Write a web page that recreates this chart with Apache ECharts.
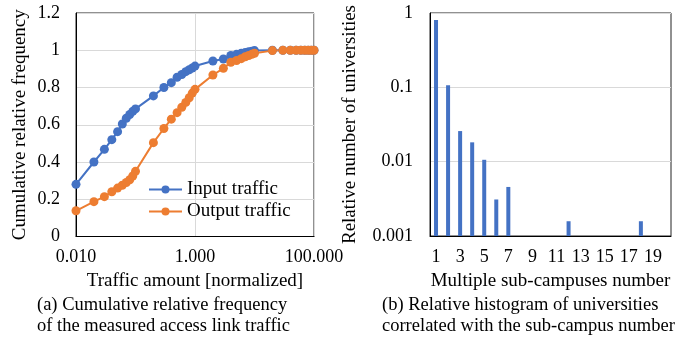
<!DOCTYPE html>
<html>
<head>
<meta charset="utf-8">
<script src="https://cdn.jsdelivr.net/npm/echarts@6/dist/echarts.min.js"></script>
<style>
  html, body { margin: 0; padding: 0; background: #fff; }
  #main { width: 694px; height: 348px; }
</style>
</head>
<body>
<div id="main"></div>
<script>
var trafficX = [0.01, 0.02, 0.03, 0.04, 0.05, 0.06, 0.07, 0.08, 0.09, 0.1,
  0.2, 0.3, 0.4, 0.5, 0.6, 0.7, 0.8, 0.9, 1,
  2, 3, 4, 5, 6, 7, 8, 9, 10,
  20, 30, 40, 50, 60, 70, 80, 90, 100];
var inputCdf = [0.28, 0.40, 0.468, 0.52, 0.563, 0.604, 0.635, 0.655, 0.672, 0.685,
  0.755, 0.80, 0.826, 0.855, 0.87, 0.885, 0.895, 0.905, 0.915,
  0.942, 0.953, 0.972, 0.978, 0.984, 0.988, 0.992, 0.995, 0.998,
  1, 1, 1, 1, 1, 1, 1, 1, 1];
var outputCdf = [0.138, 0.187, 0.214, 0.24, 0.26, 0.275, 0.29, 0.305, 0.325, 0.35,
  0.504, 0.58, 0.63, 0.665, 0.694, 0.72, 0.745, 0.77, 0.79,
  0.867, 0.903, 0.935, 0.945, 0.955, 0.965, 0.972, 0.978, 0.984,
  0.998, 1, 1, 1, 1, 1, 1, 1, 1];
var campusNum = ['1', '2', '3', '4', '5', '6', '7', '8', '9', '10',
  '11', '12', '13', '14', '15', '16', '17', '18', '19', '20'];
var campusRatio = [0.805, 0.107, 0.0258, 0.0182, 0.0106, 0.0031, 0.00457, null, null, null,
  null, 0.00158, null, null, null, null, null, 0.00158, null, null];

var font = 'Liberation Serif';
var blue = '#4472C4';
var orange = '#ED7D31';

function pairs(xs, ys) {
  var out = [];
  for (var i = 0; i < xs.length; i++) out.push([xs[i], ys[i]]);
  return out;
}

var txt = { color: '#000', fontFamily: font, fontSize: 19 };
var tick = { color: '#000', fontFamily: font, fontSize: 18 };
var capFont = '18.5px "Liberation Serif"';

var myChart = echarts.init(document.getElementById('main'));
var option = {
  animation: false,
  textStyle: { fontFamily: font },
  grid: [
    { left: 76, top: 13, width: 238, height: 223.5, show: true, borderColor: '#222', borderWidth: 1 },
    { left: 430, top: 13, width: 241, height: 223, show: true, borderColor: '#222', borderWidth: 1 }
  ],
  legend: {
    left: 143, top: 175, orient: 'vertical', itemGap: 3,
    itemWidth: 33, itemHeight: 10,
    textStyle: txt,
    data: ['Input traffic', 'Output traffic']
  },
  xAxis: [
    {
      gridIndex: 0, type: 'log', logBase: 10, min: 0.01, max: 100, interval: 2,
      name: 'Traffic amount [normalized]', nameLocation: 'middle', nameGap: 35,
      nameTextStyle: txt,
      axisLine: { lineStyle: { color: '#000' } },
      axisTick: { show: false },
      axisLabel: Object.assign({ margin: 12, formatter: function (v) { return (+v).toFixed(3); } }, tick),
      splitLine: { show: true, lineStyle: { color: '#d9d9d9' } },
      minorTick: { show: false }
    },
    {
      gridIndex: 1, type: 'category', data: campusNum,
      name: 'Multiple sub-campuses number', nameLocation: 'middle', nameGap: 36,
      nameTextStyle: txt,
      axisLine: { lineStyle: { color: '#000' } },
      axisTick: { show: false },
      axisLabel: Object.assign({ interval: 1, margin: 12 }, tick)
    }
  ],
  yAxis: [
    {
      gridIndex: 0, type: 'value', min: 0, max: 1.2, interval: 0.2,
      name: 'Cumulative relative frequency', nameLocation: 'middle', nameGap: 46,
      nameTextStyle: txt,
      axisLine: { show: true, lineStyle: { color: '#000' } },
      axisTick: { show: false },
      axisLabel: Object.assign({ margin: 16 }, tick),
      splitLine: { lineStyle: { color: '#d9d9d9' } }
    },
    {
      gridIndex: 1, type: 'log', logBase: 10, min: 0.001, max: 1, interval: 1,
      startValue: 0.001,
      name: 'Relative number of universities', nameLocation: 'middle', nameGap: 70,
      nameTextStyle: txt,
      axisLine: { show: true, lineStyle: { color: '#000' } },
      axisTick: { show: false },
      axisLabel: Object.assign({ margin: 17, formatter: function (v) { return String(parseFloat((+v).toPrecision(3))); } }, tick),
      splitLine: { lineStyle: { color: '#d9d9d9' } },
      minorTick: { show: false }
    }
  ],
  series: [
    {
      name: 'Input traffic', type: 'line', xAxisIndex: 0, yAxisIndex: 0,
      data: pairs(trafficX, inputCdf),
      symbol: 'circle', symbolSize: 9,
      itemStyle: { color: blue }, lineStyle: { color: blue, width: 2 }
    },
    {
      name: 'Output traffic', type: 'line', xAxisIndex: 0, yAxisIndex: 0,
      data: pairs(trafficX, outputCdf),
      symbol: 'circle', symbolSize: 9,
      itemStyle: { color: orange }, lineStyle: { color: orange, width: 2 }
    },
    {
      name: 'ratio', type: 'bar', xAxisIndex: 1, yAxisIndex: 1,
      data: campusRatio, barWidth: 4,
      itemStyle: { color: blue }
    }
  ],
  graphic: [
    { type: 'text', left: 37, top: 296, style: { text: '(a) Cumulative relative frequency', fill: '#000', font: capFont } },
    { type: 'text', left: 37, top: 317, style: { text: 'of the measured access link traffic', fill: '#000', font: capFont } },
    { type: 'text', left: 382, top: 296, style: { text: '(b) Relative histogram of universities', fill: '#000', font: capFont } },
    { type: 'text', left: 382, top: 317, style: { text: 'correlated with the sub-campus number', fill: '#000', font: capFont } }
  ]
};
myChart.setOption(option);
</script>
</body>
</html>
